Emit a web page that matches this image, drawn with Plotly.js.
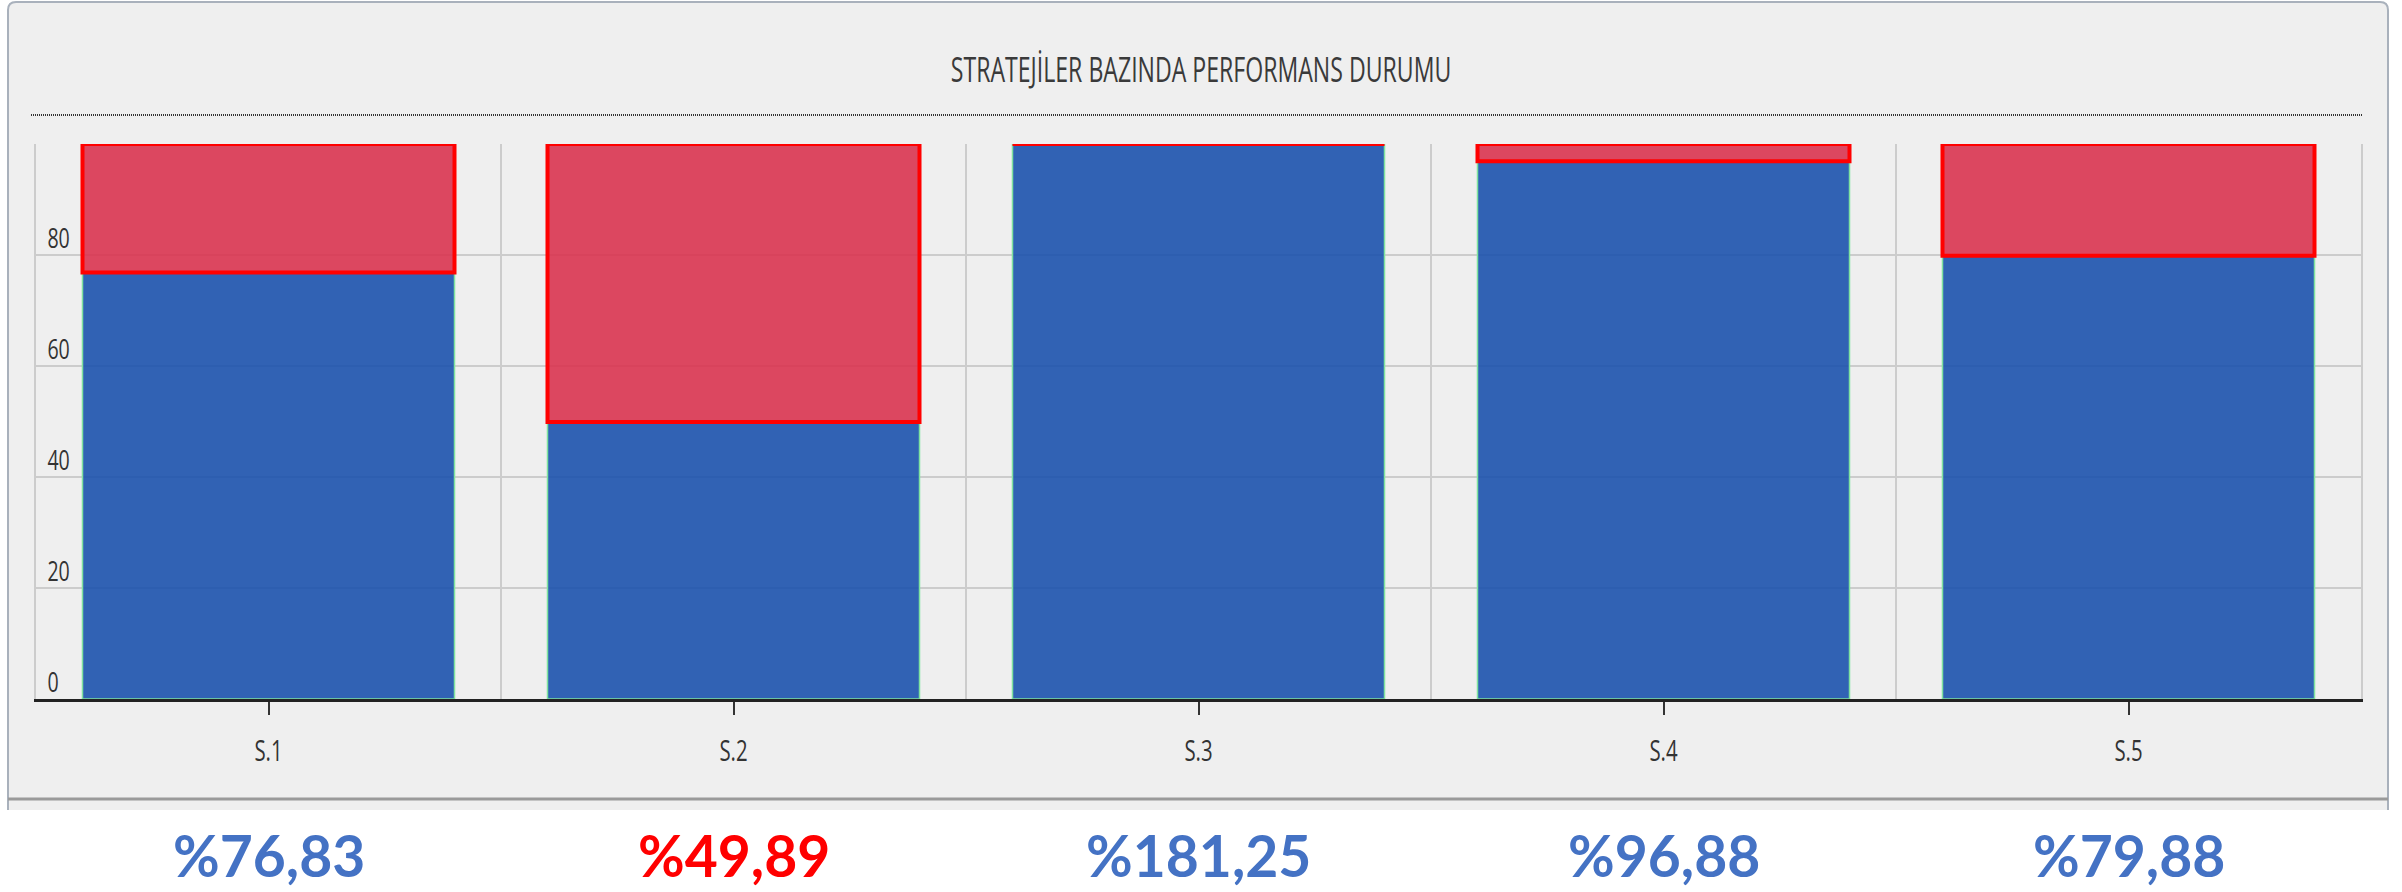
<!DOCTYPE html>
<html>
<head>
<meta charset="utf-8">
<script src="https://cdn.plot.ly/plotly-3.0.1.min.js"></script>
<style>
html, body { margin: 0; padding: 0; background: #ffffff; }
#chart { width: 2402px; height: 892px; }
</style>
</head>
<body>
<div id="chart"></div>
<script>
// ---- data ----
const categories = ['S.1', 'S.2', 'S.3', 'S.4', 'S.5'];
const achieved = [76.83, 49.89, 100, 96.88, 79.88];
const remaining = [23.17, 50.11, 0, 3.12, 20.12];
const performanceLabels = ['%76,83', '%49,89', '%181,25', '%96,88', '%79,88'];
const yTickValues = [0, 20, 40, 60, 80, 100];
const yTickLabels = ['0', '20', '40', '60', '80', ''];
const chartTitle = 'STRATEJİLER BAZINDA PERFORMANS DURUMU';

// ---- styling ----
const labelColors = ['#4472C4', '#FF0000', '#4472C4', '#4472C4', '#4472C4'];
const W = 2402, H = 892, L = 36, R = 41, T = 144, B = 193;
const pw = W - L - R, ph = H - T - B;
const px = sx => (sx - L) / pw;
const py = sy => (H - B - sy) / ph;
const P = (sx, sy) => px(sx).toFixed(5) + ',' + py(sy).toFixed(5);

const framePathOpen = 'M' + P(8, 810) + ' L' + P(8, 10) + ' Q' + P(8, 2) + ' ' + P(16, 2) +
  ' L' + P(2380, 2) + ' Q' + P(2388, 2) + ' ' + P(2388, 10) + ' L' + P(2388, 810);

const data = [
  {
    type: 'bar', x: categories, y: achieved, xaxis: 'x', yaxis: 'y',
    marker: { color: 'rgba(28,82,173,0.9)', line: { color: '#7EE29E', width: 1.5 } },
    cliponaxis: false, hoverinfo: 'skip'
  },
  {
    type: 'bar', x: categories, y: remaining, base: achieved, xaxis: 'x2', yaxis: 'y',
    marker: { color: 'rgba(217,52,80,0.9)', line: { color: '#FF0000', width: 4 } },
    cliponaxis: false, hoverinfo: 'skip'
  }
];

const annotations = categories.map((c, i) => ({
  x: c, xref: 'x', y: py(855), yref: 'paper',
  text: performanceLabels[i], showarrow: false,
  xanchor: 'center', yanchor: 'middle',
  font: { family: 'Lato, "Open Sans", sans-serif', size: 57, color: labelColors[i], weight: 700 }
}));

const layout = {
  width: W, height: H,
  margin: { l: L, r: R, t: T, b: B, pad: 0 },
  paper_bgcolor: '#ffffff',
  plot_bgcolor: 'rgba(0,0,0,0)',
  barmode: 'overlay',
  bargap: 0.2,
  showlegend: false,
  title: {
    text: chartTitle,
    font: { family: '"Open Sans", sans-serif', size: 35, color: '#3A3A3A' },
    x: 0.5, xref: 'container', xanchor: 'center',
    y: 1 - 70 / H, yref: 'container', yanchor: 'middle'
  },
  xaxis: {
    type: 'category', categoryorder: 'array', categoryarray: categories,
    range: [-0.5, 4.5], showgrid: false, zeroline: false,
    showline: true, linecolor: '#222222', linewidth: 3,
    ticks: 'outside', ticklen: 13, tickwidth: 2, tickcolor: '#333333',
    ticklabelstandoff: 10,
    tickfont: { family: '"Open Sans", sans-serif', size: 30, color: '#333333' },
    fixedrange: true
  },
  xaxis2: {
    overlaying: 'x', anchor: 'y', side: 'bottom',
    type: 'category', categoryorder: 'array', categoryarray: categories,
    range: [-0.5, 4.5], tickson: 'boundaries',
    showticklabels: false, ticks: '', showgrid: true,
    gridcolor: '#CCCCCC', gridwidth: 2, zeroline: false, showline: false,
    fixedrange: true
  },
  yaxis: {
    range: [0, 100], tickmode: 'array', tickvals: yTickValues, ticktext: yTickLabels,
    showgrid: true, gridcolor: '#CCCCCC', gridwidth: 2, zeroline: false,
    showline: true, mirror: true, linecolor: '#CCCCCC', linewidth: 2,
    ticks: '', ticklabelposition: 'inside', ticklabeloverflow: 'allow',
    ticklabelstandoff: 14, ticklabelshift: -17,
    tickfont: { family: '"Open Sans", sans-serif', size: 28, color: '#333333' },
    fixedrange: true
  },
  shapes: [
    { type: 'path', xref: 'paper', yref: 'paper', layer: 'below',
      path: framePathOpen + ' Z', fillcolor: '#EFEFEF', line: { width: 0 } },
    { type: 'path', xref: 'paper', yref: 'paper', layer: 'below',
      path: framePathOpen, fillcolor: 'rgba(0,0,0,0)', line: { color: '#A9B1BC', width: 2 } },
    { type: 'line', xref: 'paper', yref: 'paper', layer: 'below',
      x0: px(8), x1: px(2388), y0: py(799), y1: py(799), line: { color: '#9A9A9A', width: 3 } },
    { type: 'line', xref: 'paper', yref: 'paper', layer: 'above',
      x0: px(31), x1: px(2363), y0: py(115), y1: py(115), line: { color: '#333333', width: 2, dash: '1px,1px' } }
  ],
  annotations: annotations
};

Plotly.newPlot('chart', data, layout, { staticPlot: true }).then(gd => {
  const squish = (sel, k) => {
    gd.querySelectorAll(sel).forEach(t => {
      const len = t.getComputedTextLength();
      if (len > 0) {
        t.setAttribute('textLength', (len * k).toFixed(1));
        t.setAttribute('lengthAdjust', 'spacingAndGlyphs');
      }
    });
  };
  squish('.gtitle', 0.66);
  squish('.xtick text', 0.68);
  squish('.ytick text', 0.70);
});
</script>
</body>
</html>
